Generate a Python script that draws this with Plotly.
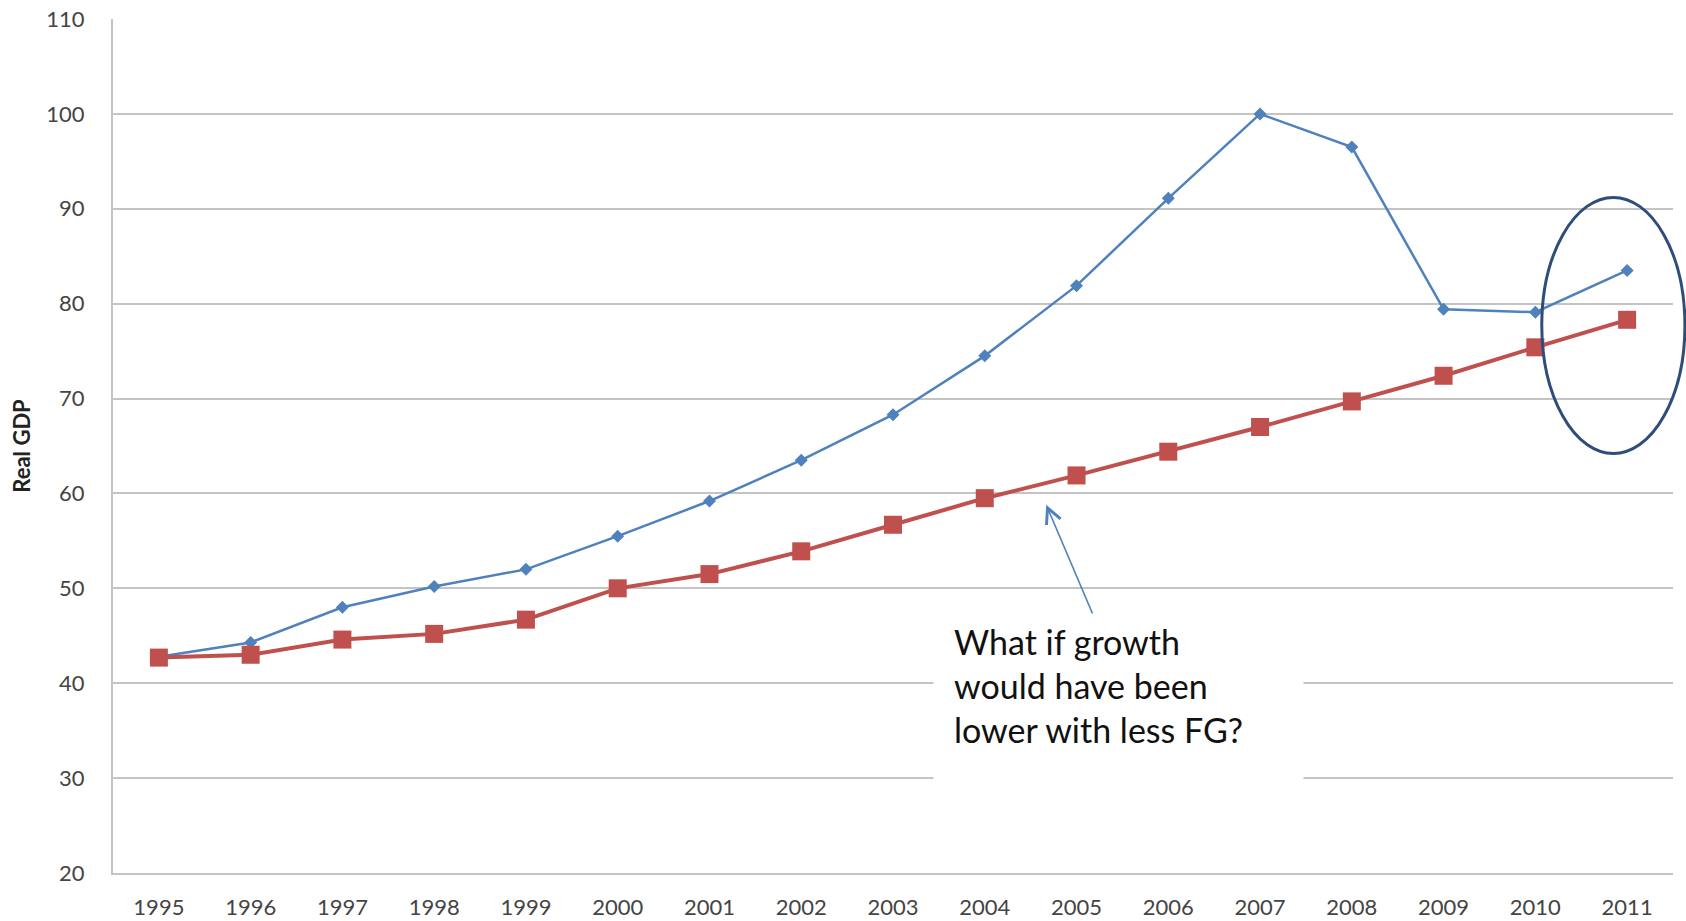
import plotly.graph_objects as go

years = ["1995", "1996", "1997", "1998", "1999", "2000", "2001", "2002", "2003",
         "2004", "2005", "2006", "2007", "2008", "2009", "2010", "2011"]
actual_gdp = [42.8, 44.3, 48.0, 50.2, 52.0, 55.5, 59.2, 63.5, 68.3,
              74.5, 81.9, 91.1, 100.0, 96.5, 79.4, 79.1, 83.5]
lower_growth_gdp = [42.7, 43.0, 44.6, 45.2, 46.7, 50.0, 51.5, 53.9, 56.7,
                    59.5, 61.9, 64.4, 67.0, 69.7, 72.4, 75.4, 78.3]
y_ticks = [20, 30, 40, 50, 60, 70, 80, 90, 100, 110]

Y_MIN, Y_MAX = 20, 110
X_MIN, X_MAX = -0.5, len(years) - 0.5

BLUE = "#4F81BD"
RED = "#C0504D"
GRID = "#C4C4C4"
FONT = "Lato"


def to_paper_x(v):
    return (v - X_MIN) / (X_MAX - X_MIN)


def to_paper_y(v):
    return (v - Y_MIN) / (Y_MAX - Y_MIN)


fig = go.Figure()

fig.add_trace(go.Scatter(
    x=list(range(len(years))), y=actual_gdp, mode="lines+markers",
    line=dict(color=BLUE, width=2.5),
    marker=dict(symbol="diamond", size=10, color=BLUE),
    showlegend=False,
))
fig.add_trace(go.Scatter(
    x=list(range(len(years))), y=lower_growth_gdp, mode="lines+markers",
    line=dict(color=RED, width=4),
    marker=dict(symbol="square", size=18, color=RED),
    showlegend=False,
))

# Ring around the final year (paper coords so it is not clipped at the edge)
fig.add_shape(
    type="circle", xref="paper", yref="paper",
    x0=to_paper_x(15.07), x1=to_paper_x(16.63),
    y0=to_paper_y(64.2), y1=to_paper_y(91.2),
    line=dict(color="#2E4D7B", width=3),
)

# Question box
fig.add_annotation(
    xref="x", yref="y", x=8.44, y=48.8, xanchor="left", yanchor="top",
    text="What if growth<br>would have been<br>lower with less FG?",
    showarrow=False, align="left", valign="top",
    width=329, height=150, borderpad=20, bgcolor="white",
    font=dict(family=FONT, size=34, color="#111111"),
)

# Arrow pointing at the lower-growth line
fig.add_annotation(
    xref="x", yref="y", axref="x", ayref="y",
    x=9.67, y=58.8, ax=10.18, ay=47.2, text="",
    showarrow=True, arrowhead=5, arrowsize=2, arrowwidth=1.5,
    arrowcolor=BLUE,
)

fig.update_xaxes(
    type="linear", range=[X_MIN, X_MAX], automargin=False,
    tickmode="array", tickvals=list(range(len(years))), ticktext=years,
    showgrid=False, zeroline=False,
    showline=True, linecolor=GRID, linewidth=2,
    ticks="outside", ticklen=14, tickcolor="rgba(0,0,0,0)",
    tickfont=dict(family=FONT, size=22, color="#444444"),
)
fig.update_yaxes(
    range=[Y_MIN, Y_MAX], tickmode="array", tickvals=y_ticks, automargin=False,
    showgrid=True, gridcolor=GRID, gridwidth=2, zeroline=False,
    showline=True, linecolor=GRID, linewidth=2,
    ticks="outside", ticklen=22, tickcolor="rgba(0,0,0,0)",
    tickfont=dict(family=FONT, size=22, color="#444444"),
    title=dict(text="<b>Real GDP</b>", standoff=10,
               font=dict(family=FONT, size=22, color="#222222")),
)

fig.update_layout(
    width=1686, height=921,
    margin=dict(l=113, r=13, t=19, b=48),
    paper_bgcolor="white", plot_bgcolor="white",
)

fig.write_html("out.html")
